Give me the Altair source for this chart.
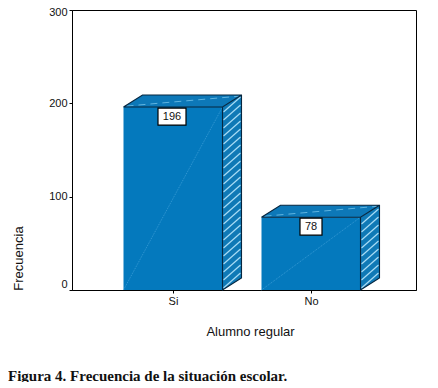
import altair as alt
import pandas as pd

categories = ["Si", "No"]
values = [196, 78]
y_ticks = [0, 100, 200, 300]
x_title = "Alumno regular"
y_title = "Frecuencia"
caption = "Figura 4. Frecuencia de la situación escolar."

W, H = 344, 280
STEP = 138.0                 # px between bars
YMAX = 300
X0 = 1 - 101 / STEP          # domain start, in category units
X1 = X0 + W / STEP
px = 1 / STEP                # one horizontal px in x units
py = YMAX / H                # one vertical px in y units
HALF = 49.5 * px
DX = 19 * px
DY = 12 * py

front, side, top, outl, hatch, diag, dash, boxes = [], [], [], [], [], [], [], []
for i, (c, v) in enumerate(zip(categories, values)):
    cx = i + 1
    xl, xr = cx - HALF, cx + HALF
    front.append(dict(c=c, xl=xl, xr=xr, v=v))
    side += [dict(c=c, x=xr, lo=0, hi=v), dict(c=c, x=xr + DX, lo=DY, hi=v + DY)]
    top += [dict(c=c, x=xl, lo=v, hi=v), dict(c=c, x=xl + DX, lo=v, hi=v + DY),
            dict(c=c, x=xr, lo=v, hi=v + DY), dict(c=c, x=xr + DX, lo=v + DY, hi=v + DY)]
    path = [(xl, v), (xl + DX, v + DY), (xr + DX, v + DY), (xr + DX, DY), (xr, 0), (xr, v), (xl, v), (xr, v), (xr + DX, v + DY)]
    for k, (a, b) in enumerate(path):
        outl.append(dict(c=c, k=k, x=a, y=b))
    h = 2 * py
    n = 0
    while h + 15 * py <= v + DY:
        hatch += [dict(g=f"{c}{n}", k=0, x=xr + 1 * px, y=h), dict(g=f"{c}{n}", k=1, x=xr + DX - 1 * px, y=h + 15 * py)]
        h += 8 * py
        n += 1
    diag += [dict(c=c, k=0, x=xl, y=0), dict(c=c, k=1, x=xr, y=v)]
    dash += [dict(c=c, k=0, x=xl + 3 * px, y=v + 1 * py), dict(c=c, k=1, x=xr + DX - 1 * px, y=v + DY - 1 * py)]
    shift = 1 * px if i == 0 else 0
    hw = (14 if len(str(v)) == 3 else 11) * px
    boxes.append(dict(c=c, x=cx - shift - hw, x2=cx - shift + hw, xm=cx - shift,
                      y=v - 1 * py, y2=v - 18 * py, ym=v - 10 * py, t=str(v)))

xs = alt.Scale(domain=[X0, X1], nice=False, zero=False)
ys = alt.Scale(domain=[0, YMAX], nice=False)
NAVY = "#06263f"
BLUE = "#0479bd"

label_expr = "datum.value==1?'%s':(datum.value==2?'%s':'')" % tuple(categories)
x_axis = alt.X("x:Q", scale=xs, title=x_title, axis=alt.Axis(
    values=[1, 2], labelExpr=label_expr, grid=False, tickColor="black", tickSize=3,
    domainColor="black", titleX=178, titleY=35, titleFontWeight="normal", titleFontSize=13,
    labelFontSize=11, labelPadding=2, labelColor="#111111", titleColor="#111111"))
y_axis = alt.Y("y:Q", scale=ys, title=y_title, axis=alt.Axis(
    values=y_ticks, grid=False, tickColor="black", tickSize=3, domainColor="black",
    labelFontSize=11, labelPadding=2, labelColor="#111111", titleColor="#111111",
    labelOffset={"condition": [{"test": "datum.value==0", "value": -6},
                               {"test": "datum.value==300", "value": 2}],
                 "value": 0},
    titleX=-47, titleY=248, titleFontWeight="normal", titleFontSize=13))

frame = alt.Chart(pd.DataFrame(diag)).mark_line(opacity=0).encode(x=x_axis, y=y_axis, order="k:Q", detail="c:N")
f_bar = alt.Chart(pd.DataFrame(front)).mark_rect(fill=BLUE).encode(
    x=alt.X("xl:Q", scale=xs), x2="xr:Q", y=alt.Y("v:Q", scale=ys), y2=alt.datum(0))
s_area = alt.Chart(pd.DataFrame(side)).mark_area(fill="#0f79b6", interpolate="linear").encode(
    x=alt.X("x:Q", scale=xs), y=alt.Y("hi:Q", scale=ys), y2="lo:Q", detail="c:N")
t_area = alt.Chart(pd.DataFrame(top)).mark_area(fill="#0d78b8", interpolate="linear").encode(
    x=alt.X("x:Q", scale=xs), y=alt.Y("hi:Q", scale=ys), y2="lo:Q", detail="c:N")
h_lines = alt.Chart(pd.DataFrame(hatch)).mark_line(color="#a8dcf5", strokeWidth=1.2).encode(
    x=alt.X("x:Q", scale=xs), y=alt.Y("y:Q", scale=ys), order="k:Q", detail="g:N")
d_line = alt.Chart(pd.DataFrame(diag)).mark_line(color="#4ba6dc", strokeWidth=0.7, strokeDash=[1, 1]).encode(
    x=alt.X("x:Q", scale=xs), y=alt.Y("y:Q", scale=ys), order="k:Q", detail="c:N")
t_dash = alt.Chart(pd.DataFrame(dash)).mark_line(color="#5fb4e0", strokeWidth=1, strokeDash=[7, 5]).encode(
    x=alt.X("x:Q", scale=xs), y=alt.Y("y:Q", scale=ys), order="k:Q", detail="c:N")
o_line = alt.Chart(pd.DataFrame(outl)).mark_line(color=NAVY, strokeWidth=1.1).encode(
    x=alt.X("x:Q", scale=xs), y=alt.Y("y:Q", scale=ys), order="k:Q", detail="c:N")
b_rect = alt.Chart(pd.DataFrame(boxes)).mark_rect(fill="white", stroke="black", strokeWidth=1.2).encode(
    x=alt.X("x:Q", scale=xs), x2="x2:Q", y=alt.Y("y:Q", scale=ys), y2="y2:Q")
b_text = alt.Chart(pd.DataFrame(boxes)).mark_text(fontSize=11, color="#111111", font="Liberation Sans").encode(
    x=alt.X("xm:Q", scale=xs), y=alt.Y("ym:Q", scale=ys), text="t:N")

chart = alt.layer(frame, f_bar, s_area, t_area, h_lines, d_line, t_dash, o_line, b_rect, b_text).properties(
    width=W, height=H,
    padding={"left": 64, "top": 2, "right": 14, "bottom": 92},
    autosize=alt.AutoSizeParams(type="none"),
    title=alt.TitleParams(caption, orient="bottom", anchor="start", frame="group", dx=-64, offset=31,
                          font="Liberation Serif", fontSize=15, fontWeight="bold", color="#111111"),
).configure_view(stroke="black", strokeWidth=1).configure_axis(labelFont="Liberation Sans", titleFont="Liberation Sans")

chart.save("out.html", embed_options={"renderer": "svg", "actions": False})
